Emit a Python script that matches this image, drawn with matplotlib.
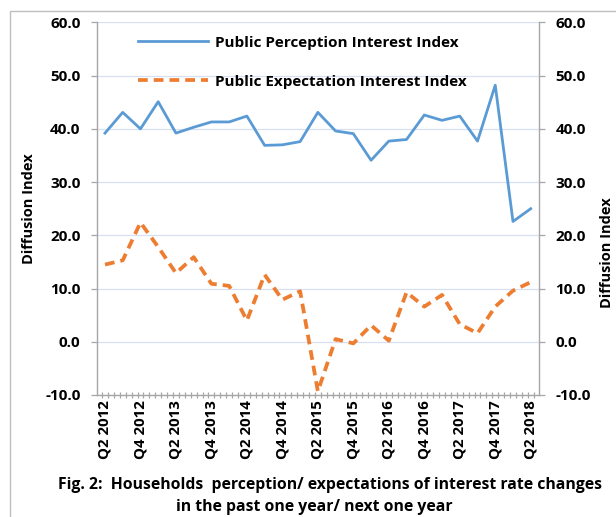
import numpy as np
import matplotlib
matplotlib.use("Agg")
import matplotlib.pyplot as plt
from matplotlib.patches import Rectangle

plt.rcParams['font.family'] = ['Open Sans', 'DejaVu Sans']
plt.rcParams['font.weight'] = 'bold'
plt.rcParams['axes.labelweight'] = 'bold'

# quarterly data, Q2 2012 .. Q2 2018
quarters = ["Q2 2012", "Q3 2012", "Q4 2012", "Q1 2013", "Q2 2013", "Q3 2013",
            "Q4 2013", "Q1 2014", "Q2 2014", "Q3 2014", "Q4 2014", "Q1 2015",
            "Q2 2015", "Q3 2015", "Q4 2015", "Q1 2016", "Q2 2016", "Q3 2016",
            "Q4 2016", "Q1 2017", "Q2 2017", "Q3 2017", "Q4 2017", "Q1 2018",
            "Q2 2018"]
perception = [39.2, 43.1, 40.0, 45.1, 39.2, 40.3, 41.3, 41.3, 42.4, 36.9,
              37.0, 37.6, 43.1, 39.6, 39.1, 34.1, 37.7, 38.0, 42.6, 41.6,
              42.4, 37.7, 48.2, 22.6, 25.0]
expectation = [14.5, 15.3, 22.4, 17.8, 12.9, 15.9, 10.9, 10.5, 4.0, 12.6,
               7.9, 9.5, -9.3, 0.5, -0.3, 3.1, 0.2, 9.3, 6.6, 8.8,
               3.3, 1.6, 6.6, 9.6, 11.2]
yticks = [-10, 0, 10, 20, 30, 40, 50, 60]

BLUE = "#5B9BD5"
ORANGE = "#ED7D31"
GRAY = "#A6A6A6"

# x in months from Q2 2012
x = np.arange(len(quarters)) * 3

fig = plt.figure(figsize=(6.16, 5.17), dpi=100)
ax = fig.add_axes([97 / 616, 1 - 395 / 517, 442 / 616, 372.6 / 517])

ax.plot(x, perception, color=BLUE, lw=2.0, label="Public Perception Interest Index")
ax.plot(x, expectation, color=ORANGE, lw=2.7, dashes=(2.6, 1.6),
        label="Public Expectation Interest Index")

ax.set_xlim(-1.35, 73.4)
ax.set_ylim(-10, 60)
ax.set_yticks(yticks)
ax.set_yticklabels([f"{v:.1f}" for v in yticks])
ax.grid(axis='y', color="#D6E0F2", lw=0.9)
ax.set_axisbelow(True)

ax.set_xticks(x[::2])
ax.set_xticklabels(quarters[::2], rotation=90)
ax.set_xticks(np.arange(-0.5, 73.5, 1), minor=True)
ax.tick_params(axis='x', which='major', length=0, pad=4, labelsize=10.8)
ax.tick_params(axis='x', which='minor', direction='inout', length=5, color=GRAY, width=0.9)
ax.tick_params(axis='y', length=4.3, color=GRAY, width=0.9, pad=7.5, labelsize=11,
               right=True, labelright=True)

for side in ['left', 'right', 'bottom']:
    ax.spines[side].set_color(GRAY)
    ax.spines[side].set_linewidth(1.0)
ax.spines['top'].set_visible(False)

ax.set_ylabel("Diffusion Index", fontsize=10.5, labelpad=7)
fig.text(607 / 616, 1 - 253 / 517, "Diffusion Index", rotation=90, fontsize=10.5,
         ha='center', va='center', fontweight='bold')

leg = ax.legend(loc='upper left', bbox_to_anchor=(0.075, 0.985), frameon=False,
                fontsize=11, handlelength=4.6, labelspacing=1.65, handletextpad=0.45,
                borderpad=0)

fig.text(330 / 616, 1 - 485 / 517,
         "Fig. 2:  Households  perception/ expectations of interest rate changes",
         ha='center', va='center', fontsize=11.3, fontweight='bold')
fig.text(314 / 616, 1 - 507 / 517, "in the past one year/ next one year",
         ha='center', va='center', fontsize=11.3, fontweight='bold')

# chart border, cropped at right/bottom in the reference
fig.patches.append(Rectangle((9.5 / 616, -0.2), 1.2, 1.2 - 10.5 / 517,
                             transform=fig.transFigure, fill=False,
                             edgecolor="#BFBFBF", lw=1.0, clip_on=False))

fig.savefig("out.png", dpi=100)
plt.close(fig)
